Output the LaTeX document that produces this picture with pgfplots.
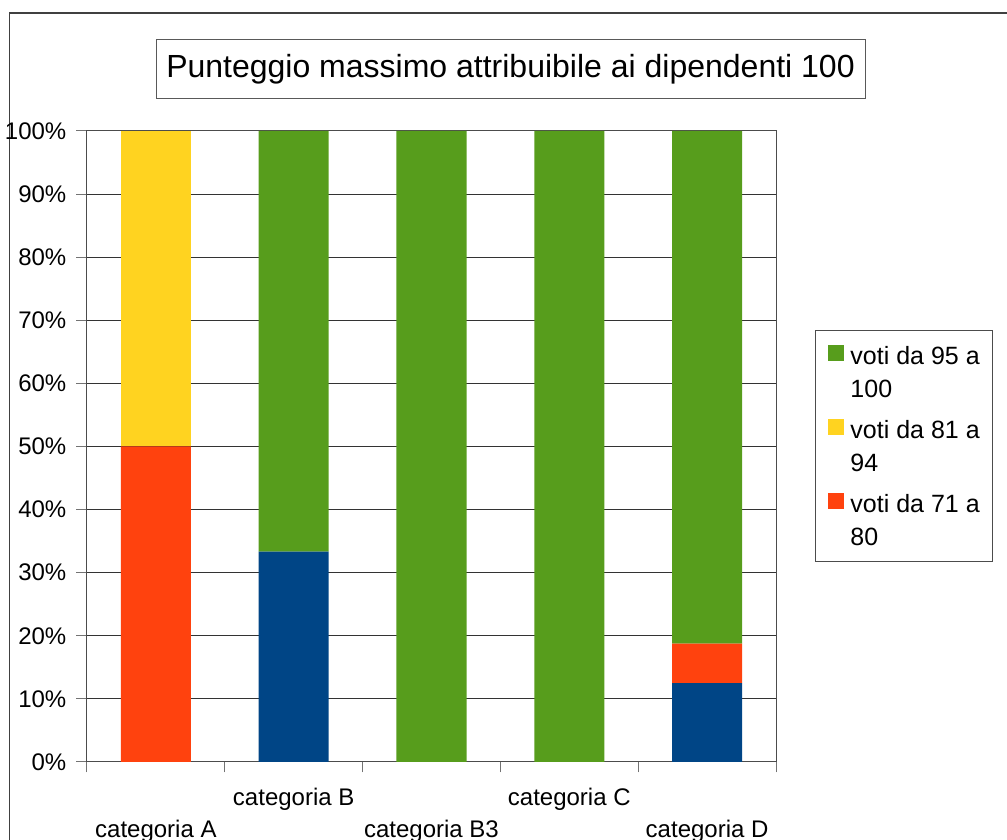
\documentclass[border=0pt]{standalone}
\usepackage{pgfplots}
\pgfplotsset{compat=1.18}
\usepackage{fontspec}
\setmainfont{Liberation Sans}
\definecolor{cgreen}{HTML}{579D1C}
\definecolor{cyellow}{HTML}{FFD320}
\definecolor{cred}{HTML}{FF420E}
\definecolor{cblue}{HTML}{004586}
\begin{document}
\begin{tikzpicture}[x=1pt,y=1pt]
\useasboundingbox (0,0) rectangle (1007,840);
\draw[line width=1.2pt, black!75] (9.5,-10) -- (9.5,827) -- (1020,827);
\node[draw=black!65, line width=1pt, minimum width=709pt, minimum height=59pt, inner sep=0pt,
      font=\fontsize{32}{38}\selectfont] at (510.5,770.5) {Punteggio massimo attribuibile ai dipendenti 100};
\begin{axis}[
  at={(87pt,78pt)}, anchor=south west,
  width=689pt, height=631pt, scale only axis,
  ybar stacked, bar width=0.508,
  xmin=-0.5, xmax=4.5, ymin=0, ymax=100,
  axis line style={black!70, line width=1pt},
  tick pos=left,
  xtick={-0.5,0.5,...,4.5}, xticklabels={},
  extra x ticks={0,1,2,3,4},
  extra x tick labels={{\raisebox{-32pt}{categoria A}},{categoria B},{\raisebox{-32pt}{categoria B3}},{categoria C},{\raisebox{-32pt}{categoria D}}},
  extra x tick style={major tick length=0pt, xticklabel style={anchor=base, yshift=-44pt}},
  ytick={0,10,...,100},
  yticklabel={\pgfmathprintnumber{\tick}\%},
  /pgf/number format/assume math mode=true,
  ymajorgrids, grid style={black!80, line width=1pt},
  tick align=outside, major tick length=10.5pt,
  tick style={black!55, line width=1pt},
  tick label style={font=\fontsize{24}{29}\selectfont},
  yticklabel style={anchor=east, inner sep=0pt, xshift=-10pt},
  legend style={at={(axis description cs:1.0566,0.6846)}, anchor=north west,
    draw=black!70, line width=1pt, font=\fontsize{25}{33}\selectfont,
    inner xsep=13pt, inner ysep=14pt, row sep=20pt, column sep=6pt,
    nodes={inner sep=0pt, align=left}},
  legend cell align=left, reverse legend,
  legend image code/.code={\fill[#1, draw=none] (0pt,12pt) rectangle (16pt,28pt);},
]
\addplot+[draw=none, fill=cblue, forget plot] coordinates {(0,0) (1,33.33) (2,0) (3,0) (4,12.5)};
\addplot+[draw=none, fill=cred] coordinates {(0,50) (1,0) (2,0) (3,0) (4,6.25)};
\addplot+[draw=none, fill=cyellow] coordinates {(0,50) (1,0) (2,0) (3,0) (4,0)};
\addplot+[draw=none, fill=cgreen] coordinates {(0,0) (1,66.67) (2,100) (3,100) (4,81.25)};
\legend{voti da 71 a\\80, voti da 81 a\\94, voti da 95 a\\100}
\end{axis}
\end{tikzpicture}
\end{document}
